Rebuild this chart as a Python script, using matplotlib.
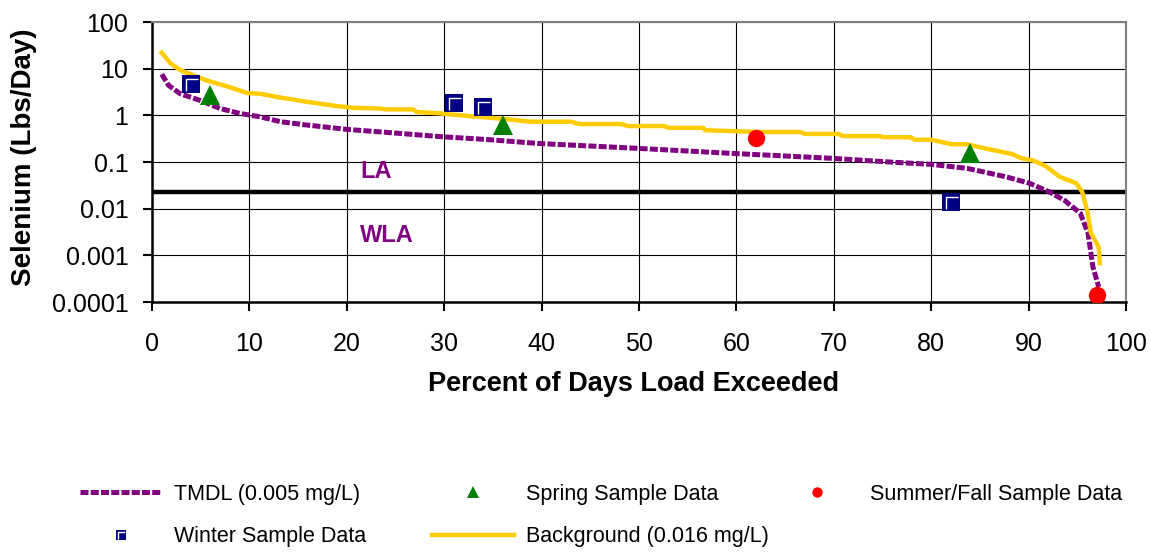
"""Selenium load duration curve with seasonal sample data."""

import matplotlib

matplotlib.use("Agg")
import matplotlib.pyplot as plt
from matplotlib.legend_handler import HandlerTuple
from matplotlib.path import Path

plt.rcParams["font.family"] = ["Liberation Sans", "DejaVu Sans"]

# TMDL curve (0.005 mg/L)
tmdl_x = [1.0, 1.7, 2.9, 4.9, 7, 9, 11.1, 13.2, 15.9, 20, 24.8, 29.6, 34.7,
          39.6, 49.9, 59.8, 69.8, 75.7, 80, 83.7, 87.7, 90.1, 92.1, 93.7,
          95.3, 96.1, 96.6, 97.2]
tmdl_y = [7.6, 4.4, 2.9, 2.1, 1.4, 1.1, 0.93, 0.73, 0.62, 0.50, 0.42, 0.35,
          0.30, 0.25, 0.196, 0.152, 0.12, 0.10, 0.089, 0.073, 0.048, 0.035,
          0.023, 0.015, 0.0080, 0.0030, 0.00057, 0.00021]

# background curve (0.016 mg/L)
bg_x = [1, 1.9, 2.9, 5.6, 8, 9.8, 11.1, 13.2, 15.9, 19, 20.7, 23.4, 24, 26.8,
        27.2, 29.6, 32.7, 35.5, 38.9, 43, 43.9, 48.2, 48.8, 52.6, 53, 56.6,
        56.8, 62.2, 66.6, 67, 70.5, 70.9, 74.7, 75.1, 77.9, 78.3, 80, 82.1,
        83.7, 85.3, 88.3, 89.3, 90.5, 91.7, 93.2, 94.9, 95.5, 96, 96.4, 97.2,
        97.3]
bg_y = [22, 13, 9.3, 5.6, 4, 3, 2.9, 2.4, 1.95, 1.58, 1.45, 1.4, 1.34, 1.34,
        1.18, 1.1, 0.96, 0.86, 0.73, 0.73, 0.65, 0.65, 0.59, 0.59, 0.54, 0.54,
        0.48, 0.44, 0.44, 0.40, 0.40, 0.36, 0.36, 0.34, 0.34, 0.30, 0.30, 0.24,
        0.24, 0.20, 0.148, 0.12, 0.107, 0.083, 0.048, 0.035, 0.023, 0.0093,
        0.0030, 0.0015, 0.00068]

winter_x = [4, 31, 34, 82]
winter_y = [4.7, 1.86, 1.53, 0.014]
spring_x = [6, 36, 84]
spring_y = [2.7, 0.63, 0.157]
summer_x = [62, 97]
summer_y = [0.32, 0.00014]

la_wla_split = 0.0227

x_ticks = [0, 10, 20, 30, 40, 50, 60, 70, 80, 90, 100]
y_ticks = [0.0001, 0.001, 0.01, 0.1, 1, 10, 100]
y_tick_labels = ["0.0001", "0.001", "0.01", "0.1", "1", "10", "100"]

PURPLE = "#800080"
YELLOW = "#FFCC00"
NAVY = "#000080"
GREEN = "#008000"
RED = "#FF0000"

# white corner highlight drawn inside the winter squares
corner = Path([(-0.26, -0.38), (-0.26, 0.26), (0.38, 0.26)],
              [Path.MOVETO, Path.LINETO, Path.LINETO])

fig = plt.figure(figsize=(11.51, 5.57), dpi=100)
ax = fig.add_axes([152 / 1151, 1 - 302 / 557, 974 / 1151, 280 / 557])

ax.set_yscale("log")
ax.set_xlim(0, 100)
ax.set_ylim(1e-4, 100)

ax.grid(True, color="black", linewidth=0.8)
ax.set_axisbelow(True)

ax.axhline(la_wla_split, xmin=0.002, color="black", linewidth=3.2, zorder=2)

tmdl_line, = ax.plot(tmdl_x, tmdl_y, color=PURPLE, linewidth=3.6,
                     linestyle=(0, (1.6, 0.45)), zorder=3,
                     label="TMDL (0.005 mg/L)")
bg_line, = ax.plot(bg_x, bg_y, color=YELLOW, linewidth=3.2, zorder=3,
                   label="Background (0.016 mg/L)")

winter, = ax.plot(winter_x, winter_y, linestyle="none", marker="s",
                  markersize=12.5, color=NAVY, markeredgewidth=0, zorder=5)
winter_hi, = ax.plot(winter_x, winter_y, linestyle="none", marker=corner,
                     markersize=12.5 * 0.76, markerfacecolor="none",
                     markeredgecolor="white", markeredgewidth=1.0, zorder=6)
spring, = ax.plot(spring_x, spring_y, linestyle="none", marker="^",
                  markersize=14, color=GREEN, markeredgewidth=0, zorder=5,
                  label="Spring Sample Data")
summer, = ax.plot(summer_x, summer_y, linestyle="none", marker="o",
                  markersize=12.5, color=RED, markeredgewidth=0, zorder=5,
                  label="Summer/Fall Sample Data")

ax.text(21.4, 0.064, "LA", color=PURPLE, fontsize=17, fontweight="bold",
        ha="left", va="center")
ax.text(21.4, 0.0027, "WLA", color=PURPLE, fontsize=17, fontweight="bold",
        ha="left", va="center")

ax.set_xticks(x_ticks)
ax.set_yticks(y_ticks)
ax.set_yticklabels(y_tick_labels)
ax.minorticks_off()
ax.tick_params(axis="both", labelsize=18, direction="out", length=6.5,
               width=1.5, color="black")
ax.tick_params(axis="y", pad=10.5)
ax.tick_params(axis="x", pad=15)

for side in ("left", "bottom"):
    ax.spines[side].set_color("black")
    ax.spines[side].set_linewidth(1.8)
for side in ("top", "right"):
    ax.spines[side].set_color("#808080")
    ax.spines[side].set_linewidth(1.5)

ax.set_xlabel("Percent of Days Load Exceeded", fontsize=19.5,
              fontweight="bold", va="top")
ax.xaxis.set_label_coords(0.494, -0.245)
ax.set_ylabel("Selenium (Lbs/Day)", fontsize=20, fontweight="bold",
              va="top")
ax.yaxis.set_label_coords(-0.145, 0.516)

legend_kw = dict(frameon=False, fontsize=15.5, borderpad=0, borderaxespad=0,
                 handlelength=3.8, handletextpad=0.55, labelspacing=0.98,
                 markerscale=0.6, loc="upper left",
                 handler_map={tuple: HandlerTuple(ndivide=1, pad=0)})
top = 1 - 484 / 557
fig.legend(handles=[tmdl_line, (winter, winter_hi)],
           labels=["TMDL (0.005 mg/L)", "Winter Sample Data"],
           bbox_to_anchor=(80 / 1151, top), **legend_kw)
fig.legend(handles=[spring, bg_line],
           labels=["Spring Sample Data", "Background (0.016 mg/L)"],
           bbox_to_anchor=(432 / 1151, top), **legend_kw)
fig.legend(handles=[summer], labels=["Summer/Fall Sample Data"],
           bbox_to_anchor=(776 / 1151, top), **legend_kw)

fig.savefig("out.png", dpi=100)
plt.close(fig)
